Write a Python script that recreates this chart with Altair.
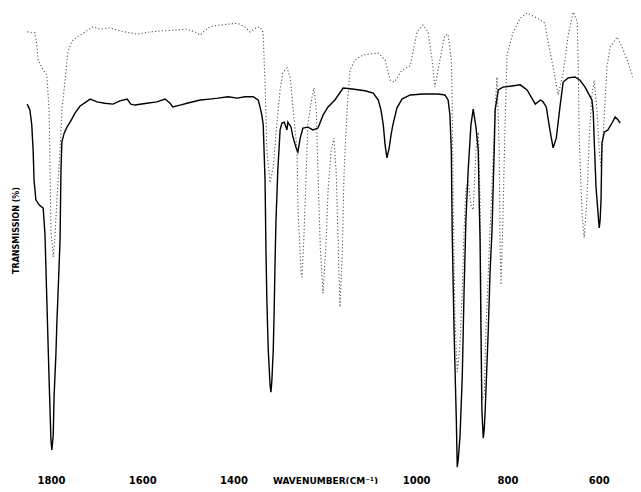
import altair as alt
import pandas as pd

# Solid trace (wavenumber cm-1, transmission %)
solid_wn = [1852,1846,1842,1839,1837,1833,1826,1817,1813,1809,
            1804,1800,1798,1795,1793,1789,1787,1785,1780,1778,
            1776,1771,1765,1758,1747,1736,1714,1699,1682,1664,
            1649,1633,1625,1616,1590,1568,1550,1539,1533,1517,
            1502,1473,1452,1434,1412,1392,1375,1357,1346,1342,
            1338,1335,1331,1329,1327,1324,1320,1318,1316,1313,
            1311,1309,1307,1303,1298,1294,1289,1283,1281,1274,
            1270,1263,1259,1254,1248,1237,1226,1215,1204,1193,
            1178,1160,1140,1112,1094,1083,1077,1072,1068,1064,
            1059,1055,1051,1042,1031,1013,985,952,937,930,
            926,923,921,917,912,910,908,904,899,895,
            891,886,880,875,869,864,862,860,858,856,
            853,851,849,842,838,834,829,827,820,810,
            794,772,757,739,728,722,715,707,700,693,
            685,678,667,652,641,630,623,615,612,610,
            606,601,599,597,595,593,588,580,571,564,
            558,553]
solid_t = [79.1,77.8,74.6,69.1,62.6,58.3,57.2,56.5,50.7,36.5,
           19.1,6.1,3.9,7.2,15.9,25.0,31.5,36.5,49.6,64.8,
           70.9,72.8,74.1,75.2,77.2,78.7,80.2,79.6,79.3,79.1,
           79.8,80.2,79.1,78.9,79.3,79.6,80.2,79.3,78.5,78.9,
           79.3,80.0,80.2,80.4,80.7,80.4,80.7,80.7,80.0,78.5,
           76.7,74.6,62.6,47.4,36.5,25.7,18.0,16.5,19.1,25.7,
           34.3,45.2,53.9,64.8,73.5,75.0,75.2,73.5,75.2,74.1,
           72.0,69.6,68.7,71.7,73.9,74.1,73.5,73.9,76.7,78.5,
           80.0,82.6,82.4,82.0,81.5,80.0,77.8,74.6,70.2,67.4,
           69.6,72.4,74.6,78.3,80.2,81.1,81.3,81.3,81.1,80.0,
           76.7,69.1,51.1,30.0,10.4,0.2,1.7,6.7,19.8,38.7,
           53.9,64.8,74.6,78.0,74.1,69.1,58.3,49.6,30.0,12.6,
           6.5,8.3,12.0,30.0,43.0,51.1,69.1,77.8,82.2,82.8,
           83.0,83.3,82.2,79.1,80.0,79.6,78.5,73.5,69.6,71.7,
           78.5,83.9,84.8,85.0,84.3,82.8,81.5,80.0,77.2,71.3,
           61.1,54.6,52.2,53.9,58.3,70.7,73.0,73.5,75.0,76.3,
           75.7,75.0]

# Dotted trace
dotted_wn = [1852,1835,1831,1828,1817,1809,1804,1802,1800,1795,
             1791,1787,1780,1776,1769,1763,1754,1743,1725,1708,
             1692,1671,1649,1627,1611,1583,1561,1528,1502,1484,
             1473,1462,1452,1430,1392,1375,1364,1351,1342,1335,
             1333,1331,1327,1320,1313,1305,1298,1292,1283,1276,
             1270,1261,1259,1252,1250,1246,1241,1237,1228,1224,
             1219,1215,1210,1204,1197,1193,1186,1180,1175,1171,
             1167,1162,1158,1151,1145,1134,1116,1083,1068,1057,
             1048,1031,1013,998,985,974,965,959,948,937,
             930,923,921,919,915,910,904,899,895,891,
             886,880,875,869,864,860,858,856,851,847,
             840,834,827,823,818,816,814,810,805,801,
             788,772,757,739,728,718,711,700,689,678,
             667,656,647,645,643,639,636,632,626,621,
             615,610,604,599,595,591,586,582,575,560,
             549,538,525,514,510]
dotted_t = [94.8,94.6,92.0,88.7,86.5,85.4,77.8,64.8,51.7,45.9,
            50.7,58.3,69.1,77.8,84.3,90.4,92.8,93.7,94.8,95.9,
            95.4,95.7,95.0,94.6,94.3,94.8,95.0,95.2,95.4,94.8,
            94.1,95.2,95.9,96.3,96.7,95.9,94.8,95.7,95.9,94.6,
            88.7,83.7,69.1,62.0,65.4,75.0,82.2,85.9,87.0,85.0,
            78.5,69.1,56.7,42.4,41.5,49.6,64.1,75.0,80.7,82.6,
            78.5,64.1,48.0,38.0,49.6,60.4,69.1,71.7,64.1,49.6,
            35.0,45.9,64.1,78.5,86.5,88.7,89.8,90.2,88.7,84.3,
            83.9,86.5,87.4,94.8,96.3,94.8,88.7,82.8,88.7,94.1,
            94.3,88.7,80.0,58.3,32.2,20.9,26.7,38.7,51.7,60.4,
            62.6,57.2,56.1,69.1,73.0,58.3,36.5,14.8,15.9,30.0,
            47.4,61.1,77.8,85.0,69.1,47.4,39.8,53.9,75.7,89.8,
            94.6,97.8,98.9,98.0,97.4,96.7,92.6,87.2,81.1,85.9,
            94.1,99.1,97.0,87.2,72.8,61.1,54.6,50.0,58.3,71.3,
            81.1,84.3,77.8,69.1,65.4,71.3,80.0,87.2,91.5,93.7,
            91.5,88.7,85.0,82.6,80.0]

tick_values = [1800, 1600, 1400, 1000, 800, 600]

solid_df = pd.DataFrame({"wn": solid_wn, "t": solid_t, "i": range(len(solid_wn))})
dotted_df = pd.DataFrame({"wn": dotted_wn, "t": dotted_t, "i": range(len(dotted_wn))})

FONT = "DejaVu Sans"
x_scale = alt.Scale(domain=[1859, 525], nice=False, zero=False)
y_scale = alt.Scale(domain=[0, 100], nice=False, zero=False)

x_axis = alt.Axis(
    values=tick_values, format="d", domain=False, ticks=False, tickSize=0, grid=False,
    labelFont=FONT, labelFontWeight="bold", labelFontSize=10, labelColor="black",
    labelBaseline="alphabetic", labelPadding=15, labelOverlap=False, labelFlush=False,
    title="WAVENUMBER(CM⁻¹)", titleFont=FONT, titleFontWeight="bold", titleFontSize=9,
    titleColor="black", titleX=301, titleY=15, titleAlign="center", titleBaseline="alphabetic",
)
y_axis = alt.Axis(
    labels=False, domain=False, ticks=False, tickSize=0, grid=False,
    title="TRANSMISSION (%)", titleFont=FONT, titleFontWeight="bold", titleFontSize=8,
    titleColor="black", titleX=-6, titleY=222, titleAngle=270, titleAlign="center",
    titleBaseline="alphabetic",
)

solid = alt.Chart(solid_df).mark_line(color="black", strokeWidth=1.4, clip=True).encode(
    x=alt.X("wn:Q", scale=x_scale, axis=x_axis),
    y=alt.Y("t:Q", scale=y_scale, axis=y_axis),
    order="i:Q",
)
dotted = alt.Chart(dotted_df).mark_line(color="#555555", strokeWidth=1.1, strokeDash=[1.2, 2.2], clip=True).encode(
    x=alt.X("wn:Q", scale=x_scale),
    y=alt.Y("t:Q", scale=y_scale),
    order="i:Q",
)

chart = alt.layer(dotted, solid).properties(
    width=609, height=460,
    autosize=alt.AutoSizeParams(type="none"),
    padding={"left": 16, "top": 0, "right": 0, "bottom": 16},
    background="white",
).configure_view(stroke=None)

chart.save("out.html", embed_options={"renderer": "svg", "actions": False})
